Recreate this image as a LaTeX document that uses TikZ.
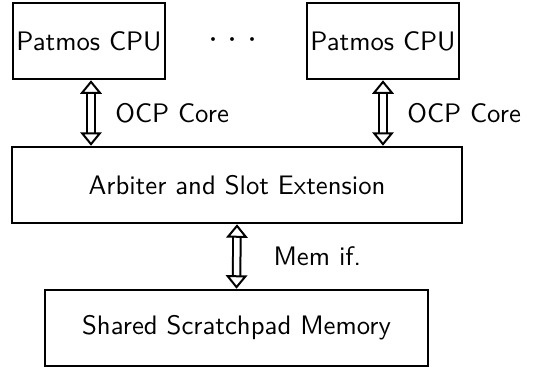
\documentclass[tikz,border=0pt]{standalone}
\usetikzlibrary{arrows.meta}
\begin{document}
\begin{tikzpicture}[x=0.4pt,y=-0.4pt,font=\sffamily\fontsize{10.7}{13}\selectfont,
	block/.style={draw,thick,minimum height=30.6pt,inner sep=0pt},
	bus/.style={double,double distance=2.2pt,thick,{Triangle[open,width=8.6pt,length=5.4pt]}-{Triangle[open,width=8.6pt,length=5.4pt]}}]
  \useasboundingbox (0,0) rectangle (541,367);

\node[block,minimum width=60.8pt] (cpua) at (89,41) {Patmos CPU};
\node[block,minimum width=60.8pt] (cpub) at (383,41) {Patmos CPU};
\node[font=\fontsize{15}{15}\selectfont] (dots) at (233,40) {$\cdot$\hspace{3.8pt}$\cdot$\hspace{3.8pt}$\cdot$};
\node[block,minimum width=180pt] (arb) at (237,185) {Arbiter and Slot Extension};
\node[block,minimum width=153.2pt] (spm) at (236.5,328) {Shared Scratchpad Memory};

\draw[bus] (cpua.south) ++(2,0) coordinate (a1) -- (a1 |- arb.north) node[midway,right=6pt] {OCP Core};
\draw[bus] (cpub.south) -- (cpub.south |- arb.north) node[midway,right=6pt] {OCP Core};
\draw[bus] (arb.south) -- (spm.north) node[midway,right=11pt] {Mem if.};
\end{tikzpicture}
\end{document}
